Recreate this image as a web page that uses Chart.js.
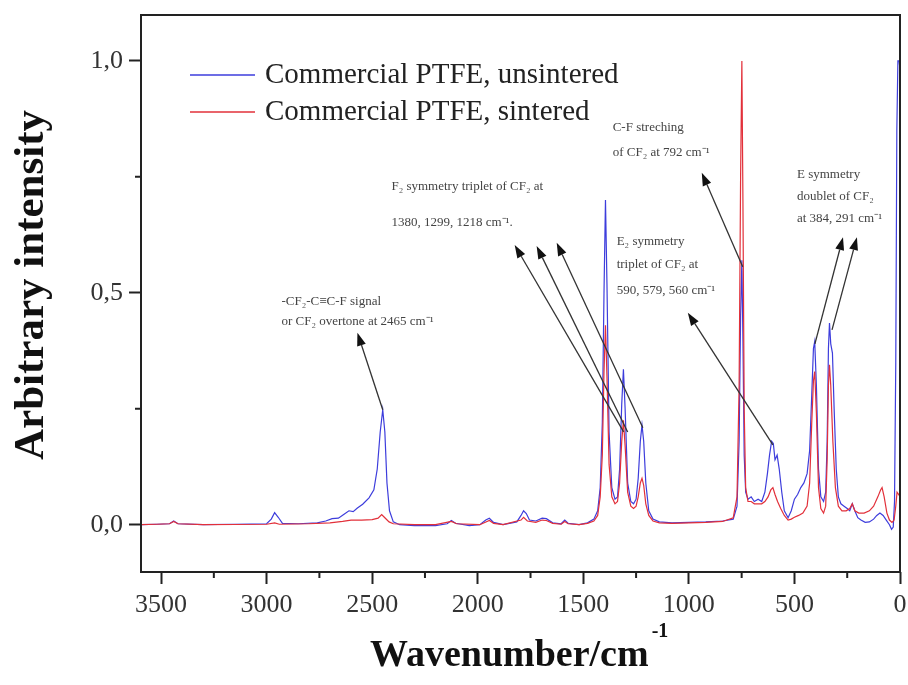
<!DOCTYPE html>
<html>
<head>
<meta charset="utf-8">
<script src="https://cdn.jsdelivr.net/npm/chart.js@4.4.1/dist/chart.umd.min.js"></script>
<style>
  html, body { margin: 0; padding: 0; background: #fff; }
  canvas { display: block; }
</style>
</head>
<body>
<canvas id="ramanChart" width="908" height="685"></canvas>
<script>
// Raman spectra of PTFE (wavenumber in cm-1, arbitrary intensity)
const seriesNames = ["Commercial PTFE, unsintered", "Commercial PTFE, sintered"];
const seriesColors = ["#3d3ddc", "#e2303a"];

const unsinteredWn = [3595, 3520, 3460, 3440, 3420, 3300, 3150, 3000, 2978, 2962, 2945, 2925, 2850, 2760, 2720, 2690,
  2660, 2635, 2610, 2590, 2570, 2545, 2515, 2492, 2476, 2462, 2450, 2440, 2430, 2418, 2400, 2370, 2300, 2200, 2145,
  2125, 2105, 2040, 1990, 1962, 1945, 1925, 1880, 1815, 1795, 1783, 1770, 1755, 1725, 1695, 1675, 1645, 1605, 1588,
  1572, 1520, 1480, 1450, 1432, 1420, 1410, 1402, 1395, 1388, 1378, 1365, 1350, 1338, 1328, 1318, 1310, 1302, 1290,
  1275, 1262, 1250, 1240, 1230, 1222, 1214, 1204, 1190, 1170, 1140, 1080, 1000, 920, 840, 790, 772, 762, 755, 749,
  744, 738, 731, 720, 705, 690, 672, 655, 640, 628, 618, 608, 600, 592, 582, 572, 560, 548, 530, 515, 500, 485, 470,
  455, 440, 428, 418, 410, 404, 396, 386, 375, 362, 352, 345, 339, 334, 328, 320, 312, 302, 292, 280, 265, 250, 238,
  226, 214, 200, 185, 165, 145, 125, 110, 95, 80, 65, 50, 40, 32, 26, 20, 15, 10, 4, 0];
const unsinteredInt = [0, 0.001, 0.002, 0.008, 0.002, 0, 0.001, 0.002, 0.012, 0.026, 0.016, 0.003, 0.002, 0.004, 0.008, 0.013,
  0.014, 0.022, 0.03, 0.028, 0.036, 0.044, 0.058, 0.075, 0.12, 0.2, 0.248, 0.2, 0.09, 0.03, 0.006, 0, -0.002, -0.002, 0.002,
  0.009, 0.003, -0.002, 0, 0.01, 0.014, 0.005, 0, 0.006, 0.02, 0.03, 0.024, 0.01, 0.008, 0.014, 0.013, 0.004, 0.002, 0.01,
  0.003, 0, 0.004, 0.012, 0.03, 0.08, 0.22, 0.5, 0.7, 0.52, 0.2, 0.08, 0.055, 0.06, 0.12, 0.26, 0.335, 0.25, 0.09,
  0.05, 0.045, 0.055, 0.1, 0.18, 0.215, 0.18, 0.09, 0.03, 0.012, 0.006, 0.004, 0.005, 0.006, 0.008, 0.012, 0.04, 0.18, 0.45, 0.57,
  0.4, 0.15, 0.07, 0.055, 0.06, 0.05, 0.055, 0.05, 0.07, 0.11, 0.15, 0.18, 0.175, 0.14, 0.15, 0.12, 0.07, 0.03, 0.015, 0.03, 0.055, 0.065, 0.08,
  0.09, 0.11, 0.16, 0.28, 0.38, 0.395, 0.3, 0.12, 0.06, 0.05, 0.07, 0.18, 0.38, 0.435, 0.39, 0.37, 0.25, 0.12, 0.06, 0.045, 0.04, 0.035, 0.03,
  0.045, 0.03, 0.015, 0.01, 0.005, 0.006, 0.012, 0.02, 0.025, 0.02, 0.01, 0, -0.01, -0.005, 0.05, 0.35, 0.85, 1.0, 1.0, 0.98];

const sinteredWn = [3595, 3520, 3460, 3440, 3420, 3300, 3000, 2962, 2940, 2800, 2700, 2640, 2600, 2550, 2500, 2472,
  2455, 2440, 2420, 2400, 2300, 2200, 2125, 2100, 1990, 1945, 1925, 1880, 1795, 1783, 1765, 1725, 1695, 1675, 1645,
  1605, 1588, 1572, 1520, 1480, 1450, 1432, 1420, 1410, 1402, 1395, 1388, 1378, 1365, 1350, 1338, 1328, 1318, 1310,
  1302, 1290, 1275, 1262, 1250, 1240, 1230, 1222, 1214, 1204, 1190, 1170, 1140, 1080, 1000, 920, 840, 790, 772, 762,
  755, 749, 744, 738, 731, 720, 705, 690, 672, 655, 640, 625, 612, 602, 592, 580, 565, 548, 530, 515, 500, 480, 460,
  440, 428, 418, 410, 404, 396, 386, 375, 362, 352, 345, 339, 334, 328, 318, 306, 292, 275, 255, 238, 226, 214, 195,
  170, 145, 125, 105, 92, 85, 75, 62, 50, 38, 28, 20, 14, 6, 0];
const sinteredInt = [0, 0.001, 0.002, 0.007, 0.002, 0, 0.001, 0.004, 0.001, 0.002, 0.004, 0.007, 0.01, 0.01, 0.011, 0.014,
  0.022, 0.015, 0.006, 0.002, 0, 0, 0.007, 0.002, 0, 0.009, 0.003, 0, 0.01, 0.016, 0.008, 0.005, 0.01, 0.009, 0.003,
  0.001, 0.007, 0.002, 0, 0.003, 0.008, 0.02, 0.06, 0.15, 0.33, 0.43, 0.32, 0.13, 0.06, 0.045, 0.05, 0.09, 0.18, 0.225,
  0.17, 0.07, 0.04, 0.035, 0.04, 0.06, 0.09, 0.1, 0.085, 0.045, 0.02, 0.008, 0.004, 0.003, 0.004, 0.005, 0.007, 0.015, 0.06, 0.3,
  0.75, 1.0, 0.7, 0.25, 0.08, 0.05, 0.05, 0.045, 0.045, 0.045, 0.05, 0.06, 0.075, 0.08, 0.065, 0.05, 0.035, 0.02, 0.01, 0.012, 0.016, 0.02, 0.025,
  0.04, 0.09, 0.22, 0.31, 0.33, 0.24, 0.08, 0.035, 0.025, 0.04, 0.14, 0.3, 0.345, 0.3, 0.18, 0.08, 0.04, 0.03, 0.03, 0.035, 0.045, 0.03, 0.025,
  0.025, 0.03, 0.04, 0.06, 0.075, 0.08, 0.06, 0.025, 0.01, 0.005, 0.01, 0.04, 0.07, 0.065, 0.06];

const xMajorTicks = [3500, 3000, 2500, 2000, 1500, 1000, 500, 0];
const yMajorTicks = [0, 0.5, 1.0];
const yTickLabels = ["0,0", "0,5", "1,0"];

// annotation texts (anchored in data units) and their arrows
const notes = [
  { wn: 2930, lines: [["-CF₂-C≡C-F signal", 0.481], ["or CF₂ overtone at 2465 cm⁻¹", 0.4375]] },
  { wn: 2409, lines: [["F₂ symmetry triplet of CF₂ at", 0.728], ["1380, 1299, 1218 cm⁻¹.", 0.651]] },
  { wn: 1361, lines: [["C-F streching", 0.856], ["of CF₂ at 792 cm⁻¹", 0.802]] },
  { wn: 1342, lines: [["E₂ symmetry", 0.61], ["triplet of CF₂ at", 0.56], ["590, 579, 560 cm⁻¹", 0.504]] },
  { wn: 488, lines: [["E symmetry", 0.754], ["doublet of CF₂", 0.707], ["at 384, 291 cm⁻¹", 0.659]] }
];
const arrows = [
  { from: [2450, 0.248], to: [2570, 0.414] },
  { from: [1309, 0.2], to: [1825, 0.603] },
  { from: [1290, 0.2], to: [1721, 0.601] },
  { from: [1218, 0.209], to: [1626, 0.608] },
  { from: [745, 0.556], to: [939, 0.759] },
  { from: [602, 0.172], to: [1005, 0.457] },
  { from: [403, 0.39], to: [270, 0.62] },
  { from: [322, 0.42], to: [204, 0.62] }
];

const toPoints = (xs, ys) => xs.map((x, i) => ({ x: x, y: ys[i] }));
const serif = "'Liberation Serif', serif";

const decorPlugin = {
  id: "decor",
  afterDraw(chart) {
    const ctx = chart.ctx;
    const area = chart.chartArea;
    const xs = chart.scales.x, ys = chart.scales.y;
    ctx.save();

    // minor ticks
    ctx.strokeStyle = "#222";
    ctx.lineWidth = 2;
    ctx.beginPath();
    for (let i = 0; i < xMajorTicks.length - 1; i++) {
      const px = xs.getPixelForValue((xMajorTicks[i] + xMajorTicks[i + 1]) / 2);
      ctx.moveTo(px, area.bottom);
      ctx.lineTo(px, area.bottom + 6);
    }
    for (let i = 0; i < yMajorTicks.length - 1; i++) {
      const py = ys.getPixelForValue((yMajorTicks[i] + yMajorTicks[i + 1]) / 2);
      ctx.moveTo(area.left, py);
      ctx.lineTo(area.left - 6, py);
    }
    ctx.stroke();

    // frame
    ctx.lineWidth = 2;
    ctx.strokeRect(area.left, area.top, area.right - area.left, area.bottom - area.top);

    // axis titles
    ctx.fillStyle = "#111";
    ctx.textBaseline = "middle";
    ctx.textAlign = "left";
    ctx.font = "bold 38px " + serif;
    const mainTitle = "Wavenumber/cm";
    const wMain = ctx.measureText(mainTitle).width;
    ctx.fillText(mainTitle, 370, 656);
    ctx.font = "bold 20px " + serif;
    ctx.fillText("-1", 370 + wMain + 3, 632);

    ctx.save();
    ctx.translate(32, 285);
    ctx.rotate(-Math.PI / 2);
    ctx.textAlign = "center";
    ctx.font = "bold 43px " + serif;
    ctx.fillText("Arbitrary intensity", 0, 0);
    ctx.restore();

    // legend
    ctx.font = "29px " + serif;
    ctx.textAlign = "left";
    seriesNames.forEach((name, i) => {
      const y = area.top + 60 + i * 37;
      ctx.strokeStyle = seriesColors[i];
      ctx.lineWidth = 1.5;
      ctx.beginPath();
      ctx.moveTo(area.left + 49, y);
      ctx.lineTo(area.left + 114, y);
      ctx.stroke();
      ctx.fillStyle = "#222";
      ctx.fillText(name, area.left + 124, y);
    });

    // annotation texts
    ctx.font = "13px " + serif;
    ctx.fillStyle = "#444";
    notes.forEach(n => {
      const px = xs.getPixelForValue(n.wn);
      n.lines.forEach(([txt, v]) => ctx.fillText(txt, px, ys.getPixelForValue(v)));
    });

    // arrows
    ctx.strokeStyle = "#333";
    ctx.fillStyle = "#111";
    ctx.lineWidth = 1.3;
    arrows.forEach(a => {
      const x0 = xs.getPixelForValue(a.from[0]), y0 = ys.getPixelForValue(a.from[1]);
      const x1 = xs.getPixelForValue(a.to[0]), y1 = ys.getPixelForValue(a.to[1]);
      const ang = Math.atan2(y1 - y0, x1 - x0);
      const len = 13, half = 4.5;
      const bx = x1 - len * Math.cos(ang), by = y1 - len * Math.sin(ang);
      ctx.beginPath();
      ctx.moveTo(x0, y0);
      ctx.lineTo(bx, by);
      ctx.stroke();
      ctx.beginPath();
      ctx.moveTo(x1, y1);
      ctx.lineTo(bx + half * Math.sin(ang), by - half * Math.cos(ang));
      ctx.lineTo(bx - half * Math.sin(ang), by + half * Math.cos(ang));
      ctx.closePath();
      ctx.fill();
    });
    ctx.restore();
  }
};

new Chart(document.getElementById("ramanChart"), {
  type: "line",
  data: {
    datasets: [
      {
        label: seriesNames[1],
        data: toPoints(sinteredWn, sinteredInt),
        borderColor: seriesColors[1],
        borderWidth: 1.2,
        pointRadius: 0,
        order: 0
      },
      {
        label: seriesNames[0],
        data: toPoints(unsinteredWn, unsinteredInt),
        borderColor: seriesColors[0],
        borderWidth: 1.2,
        pointRadius: 0,
        order: 1
      }
    ]
  },
  options: {
    responsive: false,
    animation: false,
    layout: { padding: { top: 15, right: 8, left: 0, bottom: 0 } },
    plugins: { legend: { display: false }, tooltip: { enabled: false } },
    scales: {
      x: {
        type: "linear",
        reverse: true,
        min: 0,
        max: 3595,
        afterBuildTicks: axis => { axis.ticks = xMajorTicks.map(v => ({ value: v })); },
        afterFit: axis => { axis.height = 113; axis.paddingLeft = 0; axis.paddingRight = 0; },
        border: { display: false },
        grid: { drawOnChartArea: false, tickLength: 12, tickWidth: 2, tickColor: "#222" },
        ticks: {
          autoSkip: false,
          maxRotation: 0,
          padding: 6,
          color: "#333",
          font: { family: serif, size: 26 },
          callback: v => String(v)
        }
      },
      y: {
        min: -0.102,
        max: 1.099,
        afterBuildTicks: axis => { axis.ticks = yMajorTicks.map(v => ({ value: v })); },
        afterFit: axis => { axis.width = 141; axis.paddingTop = 0; axis.paddingBottom = 0; },
        border: { display: false },
        grid: { drawOnChartArea: false, tickLength: 12, tickWidth: 2, tickColor: "#222" },
        ticks: {
          padding: 6,
          color: "#333",
          font: { family: serif, size: 26 },
          callback: v => yTickLabels[yMajorTicks.findIndex(t => Math.abs(t - v) < 1e-6)]
        }
      }
    }
  },
  plugins: [decorPlugin]
});
</script>
</body>
</html>
